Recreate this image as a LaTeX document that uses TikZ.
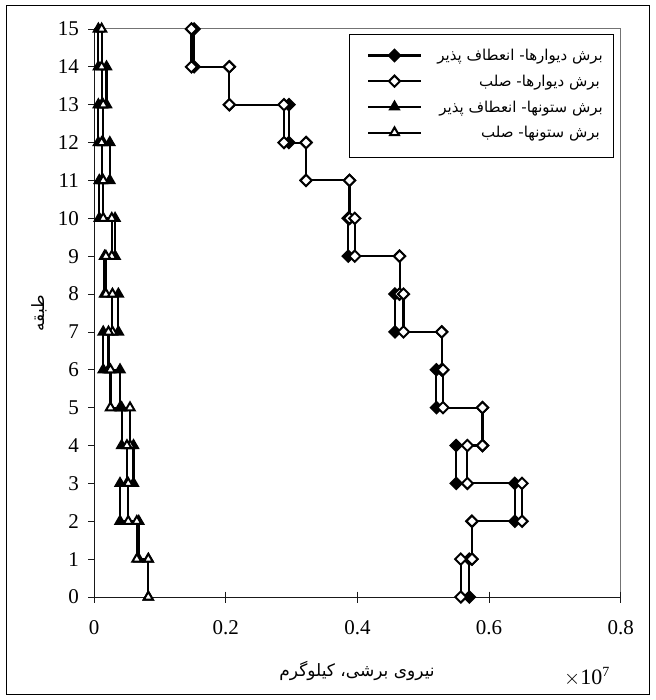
\documentclass[tikz,border=0pt]{standalone}
\usepackage{fontspec}
\setmainfont{Liberation Serif}
\newfontfamily\arabicfont[Script=Arabic]{DejaVu Sans}
\TeXXeTstate=1
\usetikzlibrary{plotmarks}
\pgfdeclareplotmark{dia}{%
  \pgfpathmoveto{\pgfqpoint{0pt}{\pgfplotmarksize}}%
  \pgfpathlineto{\pgfqpoint{\pgfplotmarksize}{0pt}}%
  \pgfpathlineto{\pgfqpoint{0pt}{-\pgfplotmarksize}}%
  \pgfpathlineto{\pgfqpoint{-\pgfplotmarksize}{0pt}}%
  \pgfpathclose
  \pgfusepathqfillstroke}
\tikzset{
  ser/.style={line width=2.1pt, black, line join=miter},
  fdia/.style={mark=dia, mark size=5.6pt, mark options={solid, fill=black, line width=2pt}},
  odia/.style={mark=dia, mark size=5.6pt, mark options={solid, fill=white, line width=2pt}},
  ftri/.style={mark=triangle*, mark size=5.2pt, mark options={solid, fill=black, line width=2pt}},
  otri/.style={mark=triangle*, mark size=5.2pt, mark options={solid, fill=white, line width=2pt}},
  ticklab/.style={font=\fontsize{21}{24}\selectfont, inner sep=0pt},
  fatxt/.style={font=\arabicfont\fontsize{15}{20}\selectfont, inner sep=0pt},
}
\begin{document}
\begin{tikzpicture}[x=1pt,y=-1pt]
\useasboundingbox (0,0) rectangle (655,700);
\draw[black, line width=1pt] (6,6) rectangle (649,694);
% plot box
\draw[black!55, line width=1pt] (94,28.5) rectangle (620.7,597);
\draw[black!90, line width=1pt] (94,28.5) -- (94,597) -- (620.7,597);
% y ticks and labels
\foreach \f in {0,...,15}{
  \draw[black!90, line width=0.8pt] (88,{597-37.87*\f}) -- (94,{597-37.87*\f});
  \node[ticklab, anchor=east] (yl\f) at (79,{597-37.87*\f}) {\f};
}
% x ticks and labels
\foreach \v/\t in {0/0,0.2/0.2,0.4/0.4,0.6/0.6,0.8/0.8}{
  \draw[black!90, line width=0.8pt] ({94+658.5*\v},591.5) -- ({94+658.5*\v},603);
  \node[ticklab] (xl\t) at ({94+658.5*\v},628) {\t};
}
% data
\begin{scope}[shift={(94,597)}, x=658.5pt, y=37.87pt]
\draw[ser] plot[fdia] coordinates {(0.152,15) (0.152,14) (0.2055,14) (0.2055,13) (0.296,13) (0.296,12) (0.322,12) (0.322,11) (0.388,11) (0.388,10) (0.386,10) (0.386,9) (0.464,9) (0.464,8) (0.457,8) (0.457,7) (0.528,7) (0.528,6) (0.520,6) (0.520,5) (0.590,5) (0.590,4) (0.550,4) (0.550,3) (0.639,3) (0.639,2) (0.574,2) (0.574,1) (0.570,1) (0.570,0)};
\draw[ser] plot[odia] coordinates {(0.148,15) (0.148,14) (0.2055,14) (0.2055,13) (0.2885,13) (0.2885,12) (0.322,12) (0.322,11) (0.388,11) (0.388,10) (0.396,10) (0.396,9) (0.464,9) (0.464,8) (0.470,8) (0.470,7) (0.528,7) (0.528,6) (0.530,6) (0.530,5) (0.590,5) (0.590,4) (0.567,4) (0.567,3) (0.650,3) (0.650,2) (0.574,2) (0.574,1) (0.557,1) (0.557,0)};
\draw[ser] plot[ftri] coordinates {(0.0066,15) (0.0066,14) (0.019,14) (0.019,13) (0.0066,13) (0.0066,12) (0.024,12) (0.024,11) (0.008,11) (0.008,10) (0.032,10) (0.032,9) (0.016,9) (0.016,8) (0.037,8) (0.037,7) (0.014,7) (0.014,6) (0.0395,6) (0.0395,5) (0.042,5) (0.042,4) (0.060,4) (0.060,3) (0.0395,3) (0.0395,2) (0.068,2) (0.068,1) (0.0825,1) (0.0825,0)};
\draw[ser] plot[otri] coordinates {(0.0116,15) (0.0116,14) (0.0116,13) (0.014,13) (0.014,12) (0.0116,12) (0.0116,11) (0.014,11) (0.014,10) (0.027,10) (0.027,9) (0.018,9) (0.018,8) (0.028,8) (0.028,7) (0.022,7) (0.022,6) (0.025,6) (0.025,5) (0.0547,5) (0.0547,4) (0.050,4) (0.050,3) (0.052,3) (0.052,2) (0.065,2) (0.065,1) (0.0825,1) (0.0825,0)};
\end{scope}
% legend
\draw[black, line width=0.8pt, fill=white] (349.5,34.5) rectangle (613,157.7);
\foreach \yy/\st in {55.5/fdia,81.2/odia,106.9/ftri,132.6/otri}{
  \draw[ser] (368,\yy) -- (421,\yy);
  \draw[ser] plot[\st] coordinates {(394.5,\yy)};
}
\node[fatxt, anchor=east] (lg1) at (603,57) {\beginR برش دیوارها- انعطاف پذیر\endR};
\node[fatxt, anchor=east] (lg2) at (600,82.7) {\beginR برش دیوارها- صلب\endR};
\node[fatxt, anchor=east] (lg3) at (603,108.4) {\beginR برش ستونها- انعطاف پذیر\endR};
\node[fatxt, anchor=east] (lg4) at (600,134.1) {\beginR برش ستونها- صلب\endR};
% axis labels
\node[font=\arabicfont\fontsize{17}{20}\selectfont, inner sep=0pt] (xlab) at (357,671) {\beginR نیروی برشی، کیلوگرم\endR};
\node[font=\arabicfont\fontsize{17}{20}\selectfont, inner sep=0pt, rotate=90] (ylab) at (39,313) {\beginR طبقه\endR};
\node[font=\fontsize{22}{24}\selectfont, inner sep=0pt, anchor=west] (exp) at (564,677) {$\times$10\raisebox{8pt}{\fontsize{14}{16}\selectfont 7}};
\end{tikzpicture}
\end{document}
